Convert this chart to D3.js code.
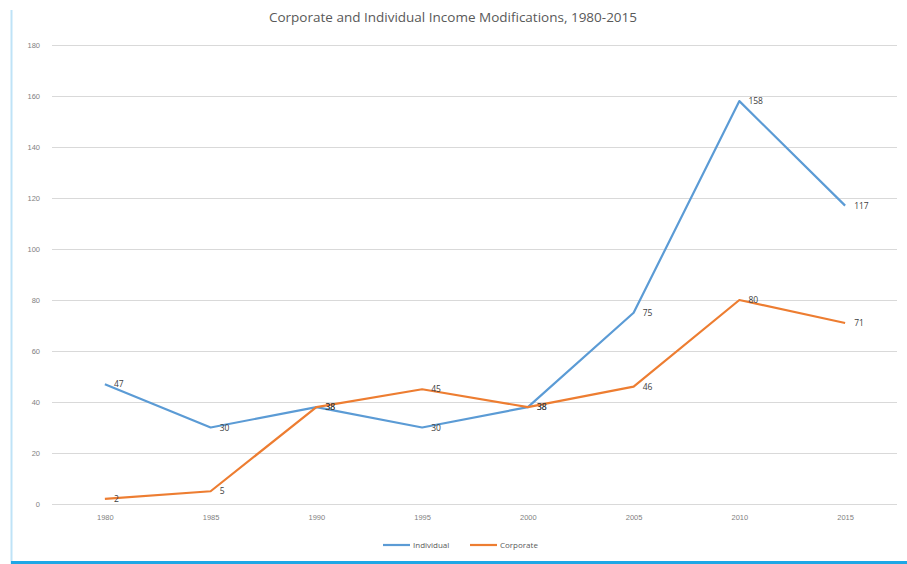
<!DOCTYPE html>
<html>
<head>
<meta charset="utf-8">
<script src="https://cdn.jsdelivr.net/npm/d3@7"></script>
<style>
  html, body { margin: 0; padding: 0; background: #fff; }
  svg { display: block; font-family: "Open Sans", "Liberation Sans", sans-serif; }
</style>
</head>
<body>
<svg id="chart" width="907" height="564"></svg>
<script>
// Income modifications by year
const years = ["1980", "1985", "1990", "1995", "2000", "2005", "2010", "2015"];
const individual = [47, 30, 38, 30, 38, 75, 158, 117];
const corporate = [2, 5, 38, 45, 38, 46, 80, 71];
const yTicks = [0, 20, 40, 60, 80, 100, 120, 140, 160, 180];
const seriesNames = ["Individual", "Corporate"];
const seriesColors = ["#5b9bd5", "#ed7d31"];

const svg = d3.select("#chart");
const W = 907, H = 564;

// frame edges
svg.append("line").attr("x1", 11.5).attr("x2", 11.5).attr("y1", 10).attr("y2", H)
  .attr("stroke", "#bfe3f7").attr("stroke-width", 2);
svg.append("rect").attr("x", 11).attr("y", 561).attr("width", W - 11).attr("height", 3)
  .attr("fill", "#1ea7e6");

const x = d3.scalePoint().domain(years).range([52, 898]).padding(0.5);
const y = d3.scaleLinear().domain([0, 180]).range([504, 45]);

// title
svg.append("text").attr("x", 453).attr("y", 22).attr("text-anchor", "middle")
  .attr("font-size", 13.5).attr("fill", "#595959")
  .text("Corporate and Individual Income Modifications, 1980-2015");

// gridlines + y labels
const yAxis = d3.axisLeft(y).tickValues(yTicks).tickSize(-(897 - 52)).tickPadding(12);
const gy = svg.append("g").attr("transform", "translate(52,0)").call(yAxis);
gy.select(".domain").remove();
gy.selectAll(".tick line").attr("stroke", "#d9d9d9").attr("stroke-width", 1);
gy.selectAll(".tick text").attr("fill", "#7f7f7f").attr("font-size", 7.5);

// x labels
const xAxis = d3.axisBottom(x).tickSize(0).tickPadding(11);
const gx = svg.append("g").attr("transform", "translate(0,504)").call(xAxis);
gx.select(".domain").remove();
gx.selectAll(".tick text").attr("fill", "#7f7f7f").attr("font-size", 7.5);

const series = [individual, corporate];
const line = d3.line().x((d, i) => x(years[i])).y(d => y(d));

series.forEach((vals, s) => {
  svg.append("path").datum(vals).attr("d", line)
    .attr("fill", "none").attr("stroke", seriesColors[s]).attr("stroke-width", 2.2)
    .attr("stroke-linejoin", "round");
});

// value labels
series.forEach((vals, s) => {
  svg.append("g").selectAll("text").data(vals).join("text")
    .attr("x", (d, i) => x(years[i]) + 9)
    .attr("y", d => y(d) + 3)
    .attr("font-size", 8.5).attr("fill", "#404040")
    .text(d => d);
});

// legend
const legend = svg.append("g");
const lx = [383, 470];
seriesNames.forEach((n, i) => {
  legend.append("line").attr("x1", lx[i]).attr("x2", lx[i] + 27)
    .attr("y1", 545).attr("y2", 545).attr("stroke", seriesColors[i]).attr("stroke-width", 2.2);
  legend.append("text").attr("x", lx[i] + 30).attr("y", 548)
    .attr("font-size", 8).attr("fill", "#595959").text(n);
});
</script>
</body>
</html>
